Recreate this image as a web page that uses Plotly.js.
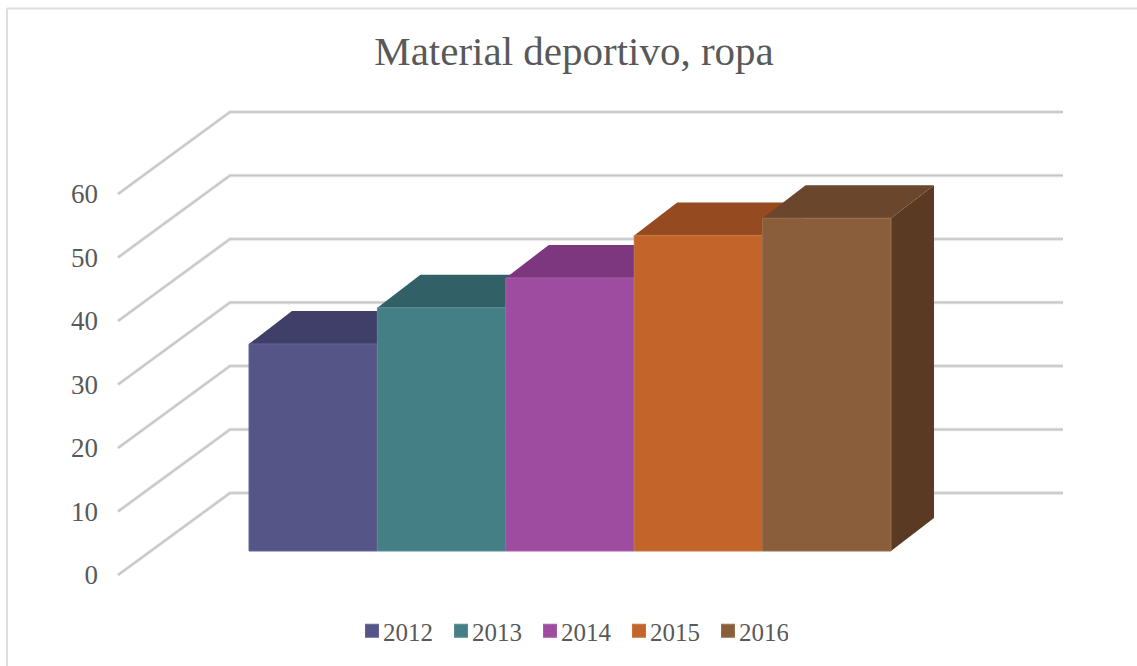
<!DOCTYPE html>
<html>
<head>
<meta charset="utf-8">
<script src="https://cdn.plot.ly/plotly-3.0.1.min.js"></script>
<style>html,body{margin:0;padding:0;background:#fff}</style>
</head>
<body>
<div id="chart" style="width:1137px;height:666px"></div>
<script>
const titleText = 'Material deportivo, ropa';
const years = [2012, 2013, 2014, 2015, 2016];
const values = [32.6, 38.3, 43, 49.7, 52.4];
const frontColors = ['#555587', '#447f86', '#9e4ca0', '#c3652b', '#8a5e3b'];
const edgeColors = ['#66669a', '#558e95', '#a85fab', '#c9743f', '#96704f'];
const topColors = ['#3f3f69', '#316066', '#7c377e', '#964a20', '#6a462d'];
const sideColors = ['#3a3a5c', '#2b5459', '#6a2f6c', '#80401c', '#5a3a23'];
const tickValues = [0, 10, 20, 30, 40, 50, 60];

const W = 1137, H = 666;
const pxPerUnit = 6.35, pxPerYear = 128.4;
const xOrigin = 313.2;            // pixel of the first bar's centre
const wallBase = 575, barBase = 551;
const fontStack = '"Liberation Serif", serif';

const xRange = [years[0] + (0 - xOrigin) / pxPerYear, years[0] + (W - xOrigin) / pxPerYear];
const yRange = [(wallBase - H) / pxPerUnit, wallBase / pxPerUnit];
const y2Range = [(barBase - H) / pxPerUnit, barBase / pxPerUnit];
const barLift = (wallBase - barBase) / pxPerUnit;
const depthX = 43 / pxPerYear, depthY = 33 / pxPerUnit;
const wallX0 = years[0] + (118 - xOrigin) / pxPerYear;
const wallX1 = years[0] + (230 - xOrigin) / pxPerYear;
const wallX2 = years[0] + (1063 - xOrigin) / pxPerYear;
const wallY = 82 / pxPerUnit;

const gridX = [], gridY = [];
tickValues.forEach(v => {
  gridX.push(wallX0, wallX1, wallX2, null);
  gridY.push(v, v + wallY, v + wallY, null);
});
const traces = [
  {type: 'scatter', mode: 'lines', x: gridX, y: gridY, showlegend: false, hoverinfo: 'skip',
   line: {color: '#e2e2e2', width: 3.4}},
  {type: 'scatter', mode: 'lines', x: gridX, y: gridY, showlegend: false, hoverinfo: 'skip',
   line: {color: '#c6c6c6', width: 1.6}}
];
years.forEach((yr, i) => {
  const v = values[i] + barLift, l = yr - 0.5, r = yr + 0.5;
  traces.push({type: 'scatter', mode: 'lines', fill: 'toself', fillcolor: sideColors[i], showlegend: false, hoverinfo: 'skip',
    line: {width: 0},
    x: [r, r + depthX, r + depthX, r, r],
    y: [barLift, barLift + depthY, v + depthY, v, barLift]});
  traces.push({type: 'scatter', mode: 'lines', fill: 'toself', fillcolor: topColors[i], showlegend: false, hoverinfo: 'skip',
    line: {width: 0},
    x: [l, l + depthX, r + depthX, r, l],
    y: [v, v + depthY, v + depthY, v, v]});
});
years.forEach((yr, i) => {
  traces.push({type: 'bar', name: String(yr), x: [yr], y: [values[i]], width: 1, xaxis: 'x2', yaxis: 'y2',
    marker: {color: frontColors[i], line: {width: 1, color: edgeColors[i]}}});
});

const layout = {
  width: W, height: H,
  margin: {l: 0, r: 0, t: 0, b: 0},
  paper_bgcolor: '#ffffff', plot_bgcolor: 'rgba(0,0,0,0)',
  font: {family: fontStack, color: '#595959'},
  title: {text: titleText, font: {family: fontStack, size: 41, color: '#595959'},
          x: 574 / W, xanchor: 'center', y: 1 - 51 / H, yanchor: 'middle'},
  barmode: 'overlay',
  xaxis: {range: xRange, visible: false, fixedrange: true},
  xaxis2: {range: xRange, visible: false, overlaying: 'x', fixedrange: true},
  yaxis: {range: yRange, tickmode: 'array', tickvals: tickValues, ticks: '', anchor: 'free', position: 98 / W,
          showgrid: false, zeroline: false, showline: false, fixedrange: true,
          tickfont: {family: fontStack, size: 27, color: '#595959'}},
  yaxis2: {range: y2Range, visible: false, overlaying: 'y', fixedrange: true},
  legend: {orientation: 'h', x: 565.5 / W, xanchor: 'center', y: 1 - 631 / H, yanchor: 'middle',
           entrywidth: 44, entrywidthmode: 'pixels',
           font: {family: fontStack, size: 25, color: '#595959'}, bgcolor: 'rgba(0,0,0,0)'},
  shapes: [
    {type: 'line', xref: 'paper', yref: 'paper', x0: 7 / W, x1: 1, y0: 1 - 8.5 / H, y1: 1 - 8.5 / H,
     line: {color: '#dedede', width: 2}},
    {type: 'line', xref: 'paper', yref: 'paper', x0: 7 / W, x1: 7 / W, y0: 1 - 8.5 / H, y1: 0,
     line: {color: '#dedede', width: 2}}
  ]
};
Plotly.newPlot('chart', traces, layout, {displayModeBar: false, responsive: false}).then(() => {
  document.querySelectorAll('.legend .legendbar, .legend .legendpoints path').forEach(p => {
    p.setAttribute('transform', 'translate(29,0) scale(1.08)');
  });
});
</script>
</body>
</html>
